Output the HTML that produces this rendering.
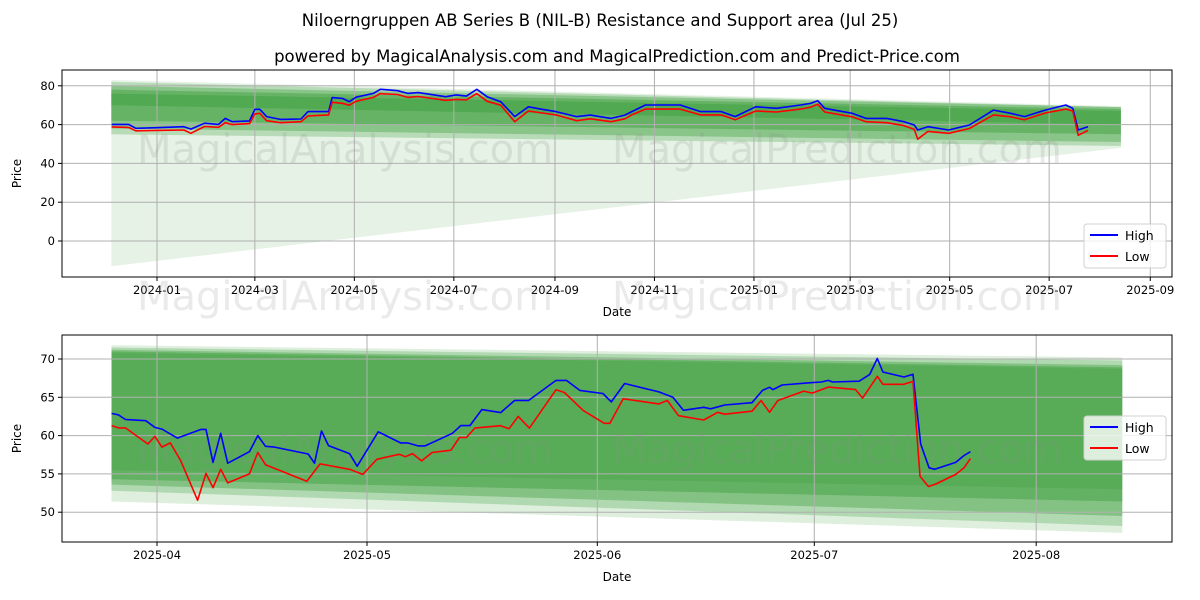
<!DOCTYPE html>
<html><head><meta charset="utf-8">
<style>
html,body{margin:0;padding:0;background:#fff;}
svg{display:block;font-family:"DejaVu Sans","Liberation Sans",sans-serif;}
</style></head>
<body>
<svg id="chart" width="1200" height="600" viewBox="0 0 1200 600" xmlns="http://www.w3.org/2000/svg">
<text x="600" y="26" text-anchor="middle" font-size="16.5" fill="#000">Niloerngruppen AB Series B (NIL-B) Resistance and Support area (Jul 25)</text>
<text x="617" y="62" text-anchor="middle" font-size="16.5" fill="#000">powered by MagicalAnalysis.com and MagicalPrediction.com and Predict-Price.com</text>
<g id="top"></g>
<g id="bot"></g>
</svg>
<script>
// ---- Top panel data (days since 2024-01-01) ----
const topDays=[-27.8,-17.3,-13,-0.4,16.5,20.8,29.2,37.7,41.9,46.1,56.7,60,63,67.2,75.7,88.3,92.6,105.2,107.4,113.7,117.9,122.1,132.7,136.9,147.5,153.8,160.1,177,183.4,189.7,196.1,202.4,210.8,219.3,227.7,236.2,244.6,257.3,265.7,278.4,286.9,291.1,299.5,320.7,333.3,346,354.5,367.1,379.8,394.6,400.9,405.1,409.4,426.2,434.7,447.4,457.9,464.3,466.4,472.7,485.4,498.1,512.9,523.4,531.9,544.6,557.2,561.5,564.8,570.8];
const topHigh=[60.1,60.1,58.1,58.4,58.9,57.7,60.7,60.1,63.2,61.5,61.9,67.9,67.9,64.1,62.7,62.9,66.7,66.7,73.9,73.5,71.8,74.1,76.1,78.2,77.5,76.1,76.5,74.4,75.3,74.7,78.2,74.4,71.8,64.1,69.2,67.9,66.7,64.1,64.9,63.2,64.9,66.7,70.1,70.1,66.7,66.7,64.1,69.2,68.4,70.1,71.0,72.3,68.4,65.8,63.2,63.2,61.5,59.8,57.2,58.9,57.2,59.8,67.5,65.8,64.1,67.5,70.1,68.4,57.2,58.9];
const topLow=[58.8,58.5,56.8,57.0,57.2,55.5,59.0,58.6,61.0,60.0,60.5,65.5,65.8,62.0,61.0,61.5,64.5,65.0,71.5,71.0,70.0,72.0,74.0,76.0,75.5,74.0,74.5,72.5,73.0,72.8,76.0,72.0,70.0,61.5,67.0,66.0,65.0,62.0,63.0,61.5,63.0,65.0,68.0,68.0,65.0,65.0,62.5,67.0,66.5,68.0,69.0,70.5,66.5,64.0,61.5,61.0,59.5,57.5,52.5,56.5,55.5,58.0,65.0,64.0,62.5,66.0,68.0,67.0,54.5,57.0];
const topTickVals=[0,20,40,60,80];
const topXTickLabels=["2024-01","2024-03","2024-05","2024-07","2024-09","2024-11","2025-01","2025-03","2025-05","2025-07","2025-09"];
const topXTickDays=[0,60,121,182,244,305,366,425,486,547,609];
const topBandLT=[83,82,80,78,76];
const topBandLB=[-13,55,58,62,70];
const topBandRT=[69.5,69,69,68,67];
const topBandRB=[48,49,51,55,60];
const topBandA=[0.1,0.2,0.25,0.25,0.2];
const topBandDays=[-28,591];

// ---- Bottom panel data (axis units, Apr 1 = 0) ----
const botHighDays=[-6.5,-5.5,-4.5,-1.6,-0.3,0.7,2.9,6.3,7.0,8.0,9.1,10.1,13.2,14.4,15.5,16.8,21.6,22.5,23.5,24.5,27.5,28.6,31.6,34.8,35.8,37.3,38.3,42.2,43.4,44.7,46.4,49.1,51.1,53.1,57.0,58.5,60.4,63.7,64.9,66.8,71.7,73.7,75.2,78.1,79.1,81.1,85.0,86.5,87.5,88.0,89.3,93.4,94.9,95.9,96.5,100.3,101.8,102.9,103.7,106.7,108.0,109.1,110.3,111.1,114.1,115.3,116.2];
const botHigh=[62.9,62.7,62.1,61.95,61.07,60.85,59.67,60.81,60.81,56.5,60.3,56.4,57.9,60.0,58.6,58.5,57.6,56.4,60.6,58.7,57.65,56.0,60.5,59.05,59.05,58.66,58.66,60.3,61.3,61.3,63.4,63.0,64.6,64.6,67.2,67.2,65.9,65.5,64.4,66.8,65.7,65.0,63.3,63.7,63.5,64.0,64.3,65.9,66.3,66.0,66.6,66.9,67.0,67.2,67.0,67.1,67.96,70.07,68.3,67.65,68.0,58.9,55.8,55.6,56.5,57.4,57.9];
const botLowDays=[-6.5,-5.5,-4.5,-1.3,-0.3,0.7,1.9,3.4,5.8,7.0,8.0,9.1,10.1,13.2,14.4,15.5,21.4,23.3,27.5,29.4,31.4,34.6,35.5,36.5,37.8,39.3,42.0,43.2,44.2,45.4,49.1,50.3,51.6,53.2,57.0,58.2,60.9,63.9,64.7,66.6,71.7,72.9,74.5,78.1,80.1,81.1,85.0,86.3,87.5,88.7,92.4,93.6,95.9,99.8,100.8,102.9,103.7,106.7,108.0,109.0,110.2,111.3,114.1,115.3,116.2];
const botLow=[61.3,61.0,61.0,58.9,59.9,58.5,59.05,56.7,51.55,55.06,53.2,55.6,53.83,55.0,57.8,56.2,54.05,56.3,55.6,54.93,56.9,57.56,57.25,57.65,56.7,57.8,58.09,59.75,59.75,60.98,61.29,60.9,62.5,60.98,65.98,65.63,63.26,61.6,61.6,64.8,64.14,64.58,62.6,62.04,63.04,62.8,63.18,64.58,63.04,64.58,65.81,65.55,66.33,66.0,64.89,67.74,66.7,66.7,67.08,54.7,53.35,53.7,54.93,55.8,57.0];
const botTickVals=[50,55,60,65,70];
const botXTickLabels=["2025-04","2025-05","2025-06","2025-07","2025-08"];
const botXTickDays=[0,30,62.9,93.9,125.6];
const botBandLT=[71.8,71.5,71.2,71.0,70.8];
const botBandLB=[51.4,52.8,53.6,54.3,55.5];
const botBandRT=[70.2,69.8,69.2,68.9,68.7];
const botBandRB=[47.3,48.2,49.5,51.4,53.0];
const botBandA=[0.13,0.2,0.25,0.25,0.1];
const botBandDays=[-6.5,137.9];

const NS="http://www.w3.org/2000/svg";
function mk(parent,tag,attrs,text){
  const e=document.createElementNS(NS,tag);
  for(const k in attrs)e.setAttribute(k,attrs[k]);
  if(text!==undefined)e.textContent=text;
  parent.appendChild(e);return e;
}
function panel(g,cfg){
  const {x0,x1,y0,y1,xs,ys}=cfg;
  const frame=mk(g,'rect',{x:x0,y:y0,width:x1-x0,height:y1-y0,fill:'#fff'});
  
  
  for(let i=0;i<cfg.bLT.length;i++){
    const xa=xs(cfg.bDays[0]),xb=xs(cfg.bDays[1]);
    const p=mk(g,'polygon',{points:`${xa},${ys(cfg.bLT[i])} ${xb},${ys(cfg.bRT[i])} ${xb},${ys(cfg.bRB[i])} ${xa},${ys(cfg.bLB[i])}`,fill:'#008000','fill-opacity':cfg.bA[i]});
    
    
  }
  cfg.yt.forEach(v=>{
    const l=mk(g,'line',{x1:x0,x2:x1,y1:ys(v),y2:ys(v),stroke:'#b0b0b0','stroke-width':1});
    
    
    mk(g,'line',{x1:x0-4,x2:x0,y1:ys(v),y2:ys(v),stroke:'#000'});
    const t=mk(g,'text',{x:x0-7,y:ys(v)+4,'text-anchor':'end','font-size':11.5},String(v));
    
    
  });
  cfg.xtd.forEach((d,i)=>{
    const x=xs(d);
    const l=mk(g,'line',{x1:x,x2:x,y1:y0,y2:y1,stroke:'#b0b0b0','stroke-width':1});
    
    
    mk(g,'line',{x1:x,x2:x,y1:y1,y2:y1+4,stroke:'#000'});
    const t=mk(g,'text',{x:x,y:y1+17,'text-anchor':'middle','font-size':11.5},cfg.xtl[i]);
    
    
  });
  cfg.wm.forEach(w=>{
    const t=mk(g,'text',{x:w[0],y:w[1],'text-anchor':'middle','font-size':40,fill:'#888','fill-opacity':0.18},w[2]);
    
    
  });
  const line=(days,vals,col,name)=>{
    const n=Math.min(days.length,vals.length);
    let pts=[];for(let i=0;i<n;i++)pts.push(xs(days[i]).toFixed(1)+','+ys(vals[i]).toFixed(1));
    const p=mk(g,'polyline',{points:pts.join(' '),fill:'none',stroke:col,'stroke-width':1.6,'stroke-linejoin':'round'});
    
    
  };
  line(cfg.hd,cfg.h,'#0000ff','high-line');
  line(cfg.ld,cfg.l,'#ff0000','low-line');
  const b=mk(g,'rect',{x:x0,y:y0,width:x1-x0,height:y1-y0,fill:'none',stroke:'#000','stroke-width':1});
  
  
  const yl=mk(g,'text',{x:0,y:0,transform:`translate(${x0-41},${(y0+y1)/2}) rotate(-90)`,'text-anchor':'middle','font-size':12},'Price');
  
  
  const xl=mk(g,'text',{x:(x0+x1)/2,y:y1+39,'text-anchor':'middle','font-size':12},'Date');
  
  
  const lg=mk(g,'g',{});
  
  
  const ly=cfg.legY;
  mk(lg,'rect',{x:1084,y:ly,width:82,height:44,rx:3,fill:'#fff','fill-opacity':0.8,stroke:'#d0d0d0'});
  mk(lg,'line',{x1:1090,x2:1118,y1:ly+11,y2:ly+11,stroke:'#0000ff','stroke-width':2});
  const t1=mk(lg,'text',{x:1125,y:ly+16,'font-size':12.5},'High');
  
  
  mk(lg,'line',{x1:1090,x2:1118,y1:ly+32,y2:ly+32,stroke:'#ff0000','stroke-width':2});
  const t2=mk(lg,'text',{x:1125,y:ly+37,'font-size':12.5},'Low');
  
  
}
panel(document.getElementById('top'),{
  x0:62,x1:1172,y0:70,y1:277,
  xs:d=>157+d*1.631, ys:v=>241-v*1.94,
  bLT:topBandLT,bLB:topBandLB,bRT:topBandRT,bRB:topBandRB,bA:topBandA,bDays:topBandDays,
  yt:topTickVals,xtd:topXTickDays,xtl:topXTickLabels,
  hd:topDays,h:topHigh,ld:topDays,l:topLow,legY:224,
  wm:[[345,163,'MagicalAnalysis.com'],[837,163,'MagicalPrediction.com'],[345,310,'MagicalAnalysis.com'],[837,310,'MagicalPrediction.com']]
});
panel(document.getElementById('bot'),{
  x0:62,x1:1172,y0:335,y1:542,
  xs:d=>157+d*7.0, ys:v=>359+(70-v)*7.66,
  bLT:botBandLT,bLB:botBandLB,bRT:botBandRT,bRB:botBandRB,bA:botBandA,bDays:botBandDays,
  yt:botTickVals,xtd:botXTickDays,xtl:botXTickLabels,
  hd:botHighDays,h:botHigh,ld:botLowDays,l:botLow,legY:416,
  wm:[[345,463,'MagicalAnalysis.com'],[837,463,'MagicalPrediction.com']]
});
</script>
</body></html>
